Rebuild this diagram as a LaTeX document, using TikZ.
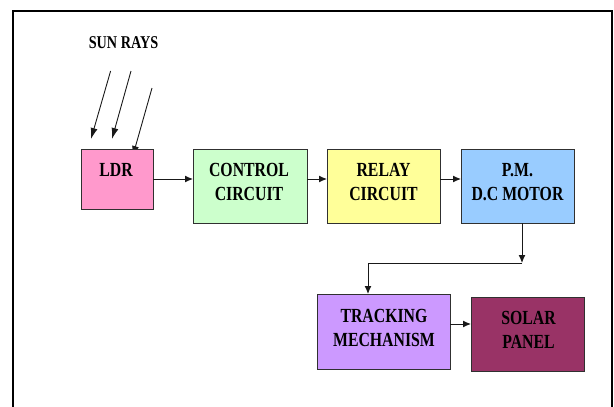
\documentclass[tikz,border=0pt]{standalone}
\usepackage{fontspec}
\setmainfont{Liberation Serif}[FakeStretch=0.79]
\usetikzlibrary{arrows.meta}
\definecolor{ldrc}{HTML}{FF99CC}
\definecolor{ctrlc}{HTML}{CCFFCC}
\definecolor{relayc}{HTML}{FFFF99}
\definecolor{motorc}{HTML}{99CCFF}
\definecolor{trackc}{HTML}{CC99FF}
\definecolor{solarc}{HTML}{993366}
\definecolor{edge}{HTML}{303030}
\tikzset{
  blk/.style={draw=edge, line width=1pt, inner sep=0pt, outer sep=0pt},
  txt/.style={font=\fontsize{20}{24}\selectfont\bfseries, align=center, inner sep=0pt},
  arr/.style={draw=black!90, line width=1pt, -{Latex[length=8pt,width=7pt]}},
  ray/.style={draw=black!90, line width=0.9pt, -{Latex[length=11pt,width=7pt]}}
}
\begin{document}
\begin{tikzpicture}[x=1pt,y=-1pt]
\useasboundingbox (0,0) rectangle (614,407);
% outer frame (open at the bottom)
\draw[line width=1.8pt] (13,410) -- (13,11) -- (612,11) -- (612,410);

% sun rays
\node[txt, font=\fontsize{18}{22}\selectfont\bfseries] (sun) at (123.5,43) {SUN RAYS};
\coordinate (r1a) at (110.6,71);  \coordinate (r1b) at (91,139);
\coordinate (r2a) at (131,71);    \coordinate (r2b) at (112,139);
\coordinate (r3a) at (152,88);    \coordinate (r3b) at (132.5,157);
\draw[ray] (r1a) -- (r1b);
\draw[ray] (r2a) -- (r2b);
\draw[ray] (r3a) -- (r3b);

% blocks
\node[blk, fill=ldrc,   minimum width=72pt,  minimum height=60pt] (ldr)   at (117,179)   {};
\node[blk, fill=ctrlc,  minimum width=114pt, minimum height=74pt] (ctrl)  at (250,186)   {};
\node[blk, fill=relayc, minimum width=113pt, minimum height=74pt] (relay) at (383.5,186) {};
\node[blk, fill=motorc, minimum width=113pt, minimum height=74pt] (motor) at (517.5,186) {};
\node[blk, fill=trackc, minimum width=133pt, minimum height=75pt] (track) at (383.5,331.5) {};
\node[blk, fill=solarc, minimum width=113pt, minimum height=74pt] (solar) at (527.5,334) {};

% block labels
\node[txt] (ldrt)   at (116,170)   {LDR};
\node[txt] (ctrlt)  at (249,182)   {CONTROL\\CIRCUIT};
\node[txt] (relayt) at (383.5,182) {RELAY\\CIRCUIT};
\node[txt] (motort) at (517.5,182) {P.M.\\D.C MOTOR};
\node[txt] (trackt) at (384,328)   {TRACKING\\MECHANISM};
\node[txt] (solart) at (528.5,330) {SOLAR\\PANEL};

% connectors
\draw[arr] (ldr.east) -- (ctrl.west |- ldr.east);
\draw[arr] (ctrl.east |- ldr.east) -- (relay.west |- ldr.east);
\draw[arr] (relay.east |- ldr.east) -- (motor.west |- ldr.east);
\coordinate (bend) at (522,263);
\draw[arr] ([xshift=4.5pt]motor.south) -- (bend);
\draw[arr] (bend) -| ([xshift=-15.5pt]track.north);
\coordinate (tsout) at ([yshift=7.5pt]track.east);
\draw[arr] (tsout) -- (solar.west |- tsout);
\end{tikzpicture}
\end{document}
